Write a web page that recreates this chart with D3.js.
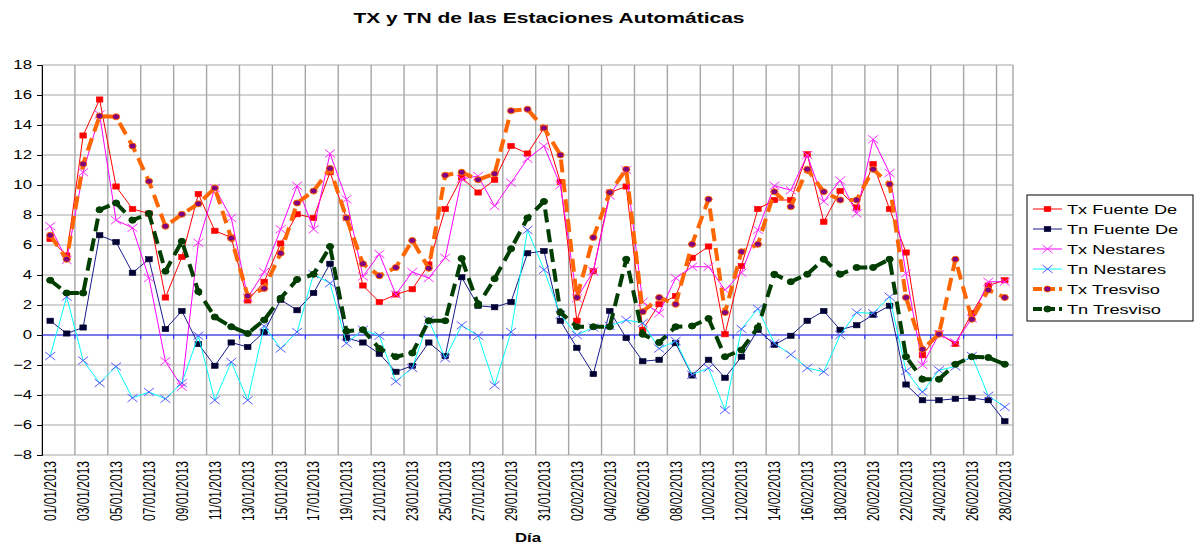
<!DOCTYPE html>
<html>
<head>
<meta charset="utf-8">
<script src="https://cdn.jsdelivr.net/npm/d3@7"></script>
<style>
  body { margin: 0; background: #fff; }
  text { font-family: "Liberation Sans", Arial, sans-serif; }
</style>
</head>
<body>
<svg id="chart" width="1204" height="544"></svg>
<script>

// categorias (dias) y valores
var dias = ["01/01/2013","02/01/2013","03/01/2013","04/01/2013","05/01/2013","06/01/2013","07/01/2013","08/01/2013","09/01/2013","10/01/2013",
	"11/01/2013","12/01/2013","13/01/2013","14/01/2013","15/01/2013","16/01/2013","17/01/2013","18/01/2013","19/01/2013","20/01/2013",
	"21/01/2013","22/01/2013","23/01/2013","24/01/2013","25/01/2013","26/01/2013","27/01/2013","28/01/2013","29/01/2013","30/01/2013",
	"31/01/2013","01/02/2013","02/02/2013","03/02/2013","04/02/2013","05/02/2013","06/02/2013","07/02/2013","08/02/2013","09/02/2013",
	"10/02/2013","11/02/2013","12/02/2013","13/02/2013","14/02/2013","15/02/2013","16/02/2013","17/02/2013","18/02/2013","19/02/2013",
	"20/02/2013","21/02/2013","22/02/2013","23/02/2013","24/02/2013","25/02/2013","26/02/2013","27/02/2013","28/02/2013"];

var txFuente = [6.4, 5.3, 13.3, 15.7, 9.9, 8.4, 8.1, 2.5, 5.2, 9.4, 6.95, 6.5, 2.3, 3.55, 6.1, 8.05, 7.8, 10.85, 7.8, 3.3,
	2.2, 2.7, 3.05, 4.7, 8.4, 10.5, 9.5, 10.35, 12.6, 12.1, 13.8,
	10.2, 0.95, 4.25, 9.5, 9.9, 0.35, 2.05, 2.6, 5.15, 5.9, 0.05, 4.6, 8.4, 9.0, 9.0, 12.05, 7.55, 9.6, 8.5,
	11.4, 8.4, 5.5, -1.35, 0.1, -0.6, 1.45, 3.3, 3.65];

var tnFuente = [0.95, 0.1, 0.5, 6.65, 6.2, 4.15, 5.05, 0.4, 1.6, -0.6, -2.05, -0.5, -0.8, 0.2, 2.35, 1.65, 2.8, 4.75, -0.2, -0.5,
	-1.25, -2.45, -2.05, -0.5, -1.4, 3.85, 1.95, 1.85, 2.2, 5.45, 5.6,
	0.95, -0.85, -2.6, 1.6, -0.2, -1.75, -1.65, -0.55, -2.7, -1.65, -2.85, -1.45, 0.35, -0.65, -0.05, 0.95, 1.6, 0.35, 0.65,
	1.35, 1.95, -3.3, -4.35, -4.35, -4.25, -4.2, -4.35, -5.75];

var txNestares = [7.25, 5.0, 10.85, 14.7, 7.65, 7.15, 3.8, -1.75, -3.45, 6.15, 9.8, 7.8, 2.5, 4.2, 7.05, 9.95, 7.05, 12.1, 9.05, 3.9,
	5.4, 2.7, 4.2, 3.8, 5.15, 10.4, 10.6, 8.6, 10.15, 11.75, 12.6,
	10.0, 2.45, 4.25, 9.3, 11.0, 2.2, 1.45, 3.8, 4.55, 4.55, 3.0, 4.15, 7.0, 9.95, 9.65, 12.0, 8.9, 10.3, 8.1,
	13.05, 10.8, 4.1, -2.0, 0.05, -0.5, 1.1, 3.55, 3.55];

var tnNestares = [-1.4, 2.55, -1.7, -3.2, -2.1, -4.2, -3.8, -4.25, -3.2, -0.05, -4.35, -1.8, -4.35, 0.6, -0.9, 0.2, 4.05, 3.45, -0.55, 0.35,
	-0.05, -3.1, -2.2, 1.0, -1.55, 0.65, -0.05, -3.35, 0.2, 7.0, 4.35,
	1.35, 0.0, 0.5, 0.6, 1.0, 0.8, -0.9, -0.4, -2.65, -2.2, -5.0, 0.4, 1.75, -0.55, -1.3, -2.2, -2.45, 0.0, 1.5,
	1.45, 2.55, -2.4, -3.8, -2.35, -2.1, -1.4, -4.05, -4.8];

var txTresviso = [6.65, 5.05, 11.4, 14.6, 14.55, 12.6, 10.25, 7.25, 8.05, 8.75, 9.8, 6.45, 2.6, 3.1, 5.45, 8.8, 9.6, 11.1, 7.8, 4.75,
	3.95, 4.5, 6.3, 4.45, 10.65, 10.85, 10.35, 10.75, 14.95, 15.05, 13.8,
	12.0, 2.5, 6.5, 9.5, 11.05, 1.55, 2.5, 2.05, 6.05, 9.05, 1.5, 5.55, 6.05, 9.55, 8.55, 11.05, 9.55, 9.0, 9.0,
	11.05, 10.05, 2.5, -0.95, 0.05, 5.05, 1.05, 3.0, 2.5];

var tnTresviso = [3.65, 2.8, 2.8, 8.35, 8.8, 7.65, 8.1, 4.25, 6.25, 2.9, 1.2, 0.55, 0.1, 1.0, 2.45, 3.7, 4.05, 5.9, 0.25, 0.35,
	-0.9, -1.45, -1.2, 0.95, 0.95, 5.1, 2.0, 3.75, 5.75, 7.8, 8.9,
	1.5, 0.55, 0.55, 0.55, 5.05, 0.05, -0.5, 0.55, 0.6, 1.1, -1.45, -1.0, 0.5, 4.05, 3.55, 4.05, 5.05, 4.05, 4.5,
	4.5, 5.05, -1.45, -2.95, -2.95, -1.95, -1.45, -1.5, -1.95];

var yTicks = [-8, -6, -4, -2, 0, 2, 4, 6, 8, 10, 12, 14, 16, 18];

var series = [
	{ name: "Tx Fuente De", values: txFuente, color: "#ff0000", width: 1, dash: null, marker: "square", mFill: "#ff0000", mStroke: "#ff0000" },
	{ name: "Tn Fuente De", values: tnFuente, color: "#1a1a8c", width: 1, dash: null, marker: "square", mFill: "#000033", mStroke: "#000033" },
	{ name: "Tx Nestares", values: txNestares, color: "#ff00ff", width: 1, dash: null, marker: "x", mFill: "none", mStroke: "#ff33ff" },
	{ name: "Tn Nestares", values: tnNestares, color: "#00ffff", width: 1, dash: null, marker: "x", mFill: "none", mStroke: "#5a5aff" },
	{ name: "Tx Tresviso", values: txTresviso, color: "#ff6600", width: 4, dash: "13,7", marker: "circle", mFill: "#800080", mStroke: "#ff6600" },
	{ name: "Tn Tresviso", values: tnTresviso, color: "#003d00", width: 4, dash: "13,7", marker: "circle", mFill: "#003d00", mStroke: "#003d00" }
];

// texto estirado en horizontal como en la imagen original
var stretch = 1.4;

var svg = d3.select("#chart");

// limites del area de trazado ("top" no se puede usar: es window.top)
var plotLeft = 42, plotRight = 1013, plotTop = 65, plotBottom = 455;

var x = d3.scaleBand()
			.domain(dias)
			.range([plotLeft, plotRight])
			.padding(0);

var y = d3.scaleLinear()
			.domain([-8, 18])
			.range([plotBottom, plotTop]);

function cx(d) { return x(d) + x.bandwidth() / 2; }


function drawMarker(g, type, fill, stroke) {
	if (type === "square") {
		g.append("rect")
			.attr("x", -3.3).attr("y", -2.6)
			.attr("width", 6.6).attr("height", 5.2)
			.attr("fill", fill).attr("stroke", stroke).attr("stroke-width", 0.6);
	} else if (type === "x") {
		g.append("path")
			.attr("d", "M-5,-4L5,4M-5,4L5,-4")
			.attr("fill", "none").attr("stroke", stroke).attr("stroke-width", 1);
	} else {
		g.append("ellipse")
			.attr("rx", 3.6).attr("ry", 3)
			.attr("fill", fill).attr("stroke", stroke).attr("stroke-width", 1);
	}
}


// rejilla horizontal
svg.append("g")
	.selectAll("line")
	.data(yTicks).enter()
	.append("line")
	.attr("x1", plotLeft).attr("x2", plotRight)
	.attr("y1", function(d) { return y(d); })
	.attr("y2", function(d) { return y(d); })
	.attr("stroke", "#c4c4c4")
	.attr("stroke-width", 1.4);

// rejilla vertical cada 2 dias (entre categorias)
var gridDays = dias.filter(function(d, i) { return i % 2 === 0; });

svg.append("g")
	.selectAll("line")
	.data(gridDays).enter()
	.append("line")
	.attr("x1", function(d) { return x(d); })
	.attr("x2", function(d) { return x(d); })
	.attr("y1", plotTop).attr("y2", plotBottom)
	.attr("stroke", "#a6a6a6")
	.attr("stroke-width", 1.4);

svg.append("line")
	.attr("x1", plotRight).attr("x2", plotRight)
	.attr("y1", plotTop).attr("y2", plotBottom)
	.attr("stroke", "#a6a6a6")
	.attr("stroke-width", 1.4);

// eje Y
var yAxis = svg.append("g")
				.attr("transform", "translate(" + plotLeft + ",0)")
				.call(d3.axisLeft(y).tickValues(yTicks).tickSize(5).tickPadding(5));

yAxis.select(".domain").attr("stroke", "#000");
yAxis.selectAll(".tick line").attr("stroke", "#000");
yAxis.selectAll(".tick text")
	.attr("font-size", 12)
	.attr("font-family", null)
	.attr("fill", "#000")
	.attr("text-anchor", "end")
	.attr("transform", function() {
		var tx = +d3.select(this).attr("x");
		return "translate(" + tx + ",0) scale(" + stretch + ",1) translate(" + (-tx) + ",0)";
	});
yAxis.attr("font-family", null);

// linea del cero (eje X)
svg.append("line")
	.attr("x1", plotLeft).attr("x2", plotRight)
	.attr("y1", y(0)).attr("y2", y(0))
	.attr("stroke", "#2020ff")
	.attr("stroke-width", 1.2);

svg.append("g")
	.selectAll("line")
	.data(gridDays.slice(1)).enter()
	.append("line")
	.attr("x1", function(d) { return x(d); })
	.attr("x2", function(d) { return x(d); })
	.attr("y1", y(0)).attr("y2", y(0) + 4)
	.attr("stroke", "#2020ff");

// etiquetas de fecha giradas
svg.append("g")
	.selectAll("text")
	.data(gridDays).enter()
	.append("text")
	.attr("transform", function(d) {
		return "translate(" + cx(d) + "," + (plotBottom + 6) + ") scale(" + stretch + ",1) rotate(-90)";
	})
	.attr("text-anchor", "end")
	.attr("dy", "0.35em")
	.attr("font-size", 12)
	.attr("fill", "#000")
	.text(function(d) { return d; });

// series
var line = d3.line()
				.x(function(d, i) { return cx(dias[i]); })
				.y(function(d) { return y(d); });

series.forEach(function(s) {

	var g = svg.append("g");

	g.append("path")
		.datum(s.values)
		.attr("d", line)
		.attr("fill", "none")
		.attr("stroke", s.color)
		.attr("stroke-width", s.width)
		.attr("stroke-dasharray", s.dash)
		.attr("stroke-linejoin", "round");

	g.selectAll("g.m")
		.data(s.values).enter()
		.append("g")
		.attr("class", "m")
		.attr("transform", function(d, i) {
			return "translate(" + cx(dias[i]) + "," + y(d) + ")";
		})
		.each(function() { drawMarker(d3.select(this), s.marker, s.mFill, s.mStroke); });

});

// titulo
svg.append("text")
	.attr("transform", "translate(549,23) scale(" + stretch + ",1)")
	.attr("text-anchor", "middle")
	.attr("font-size", 15)
	.attr("font-weight", "bold")
	.text("TX y TN de las Estaciones Automáticas");

svg.append("text")
	.attr("transform", "translate(528,542) scale(" + stretch + ",1)")
	.attr("text-anchor", "middle")
	.attr("font-size", 12)
	.attr("font-weight", "bold")
	.text("Día");

// leyenda
var legend = svg.append("g");

legend.append("rect")
	.attr("x", 1027).attr("y", 195)
	.attr("width", 166).attr("height", 126)
	.attr("fill", "#fff")
	.attr("stroke", "#000")
	.attr("stroke-width", 1);

series.forEach(function(s, i) {

	var ly = 209 + i * 20;

	legend.append("line")
		.attr("x1", 1033).attr("x2", 1062)
		.attr("y1", ly).attr("y2", ly)
		.attr("stroke", s.color)
		.attr("stroke-width", s.width)
		.attr("stroke-dasharray", s.dash ? "9,4" : null);

	drawMarker(legend.append("g").attr("transform", "translate(1047.5," + ly + ")"),
				s.marker, s.mFill, s.mStroke);

	legend.append("text")
		.attr("transform", "translate(1067," + ly + ") scale(" + stretch + ",1)")
		.attr("dy", "0.36em")
		.attr("font-size", 13)
		.text(s.name);

});

</script>
</body>
</html>
